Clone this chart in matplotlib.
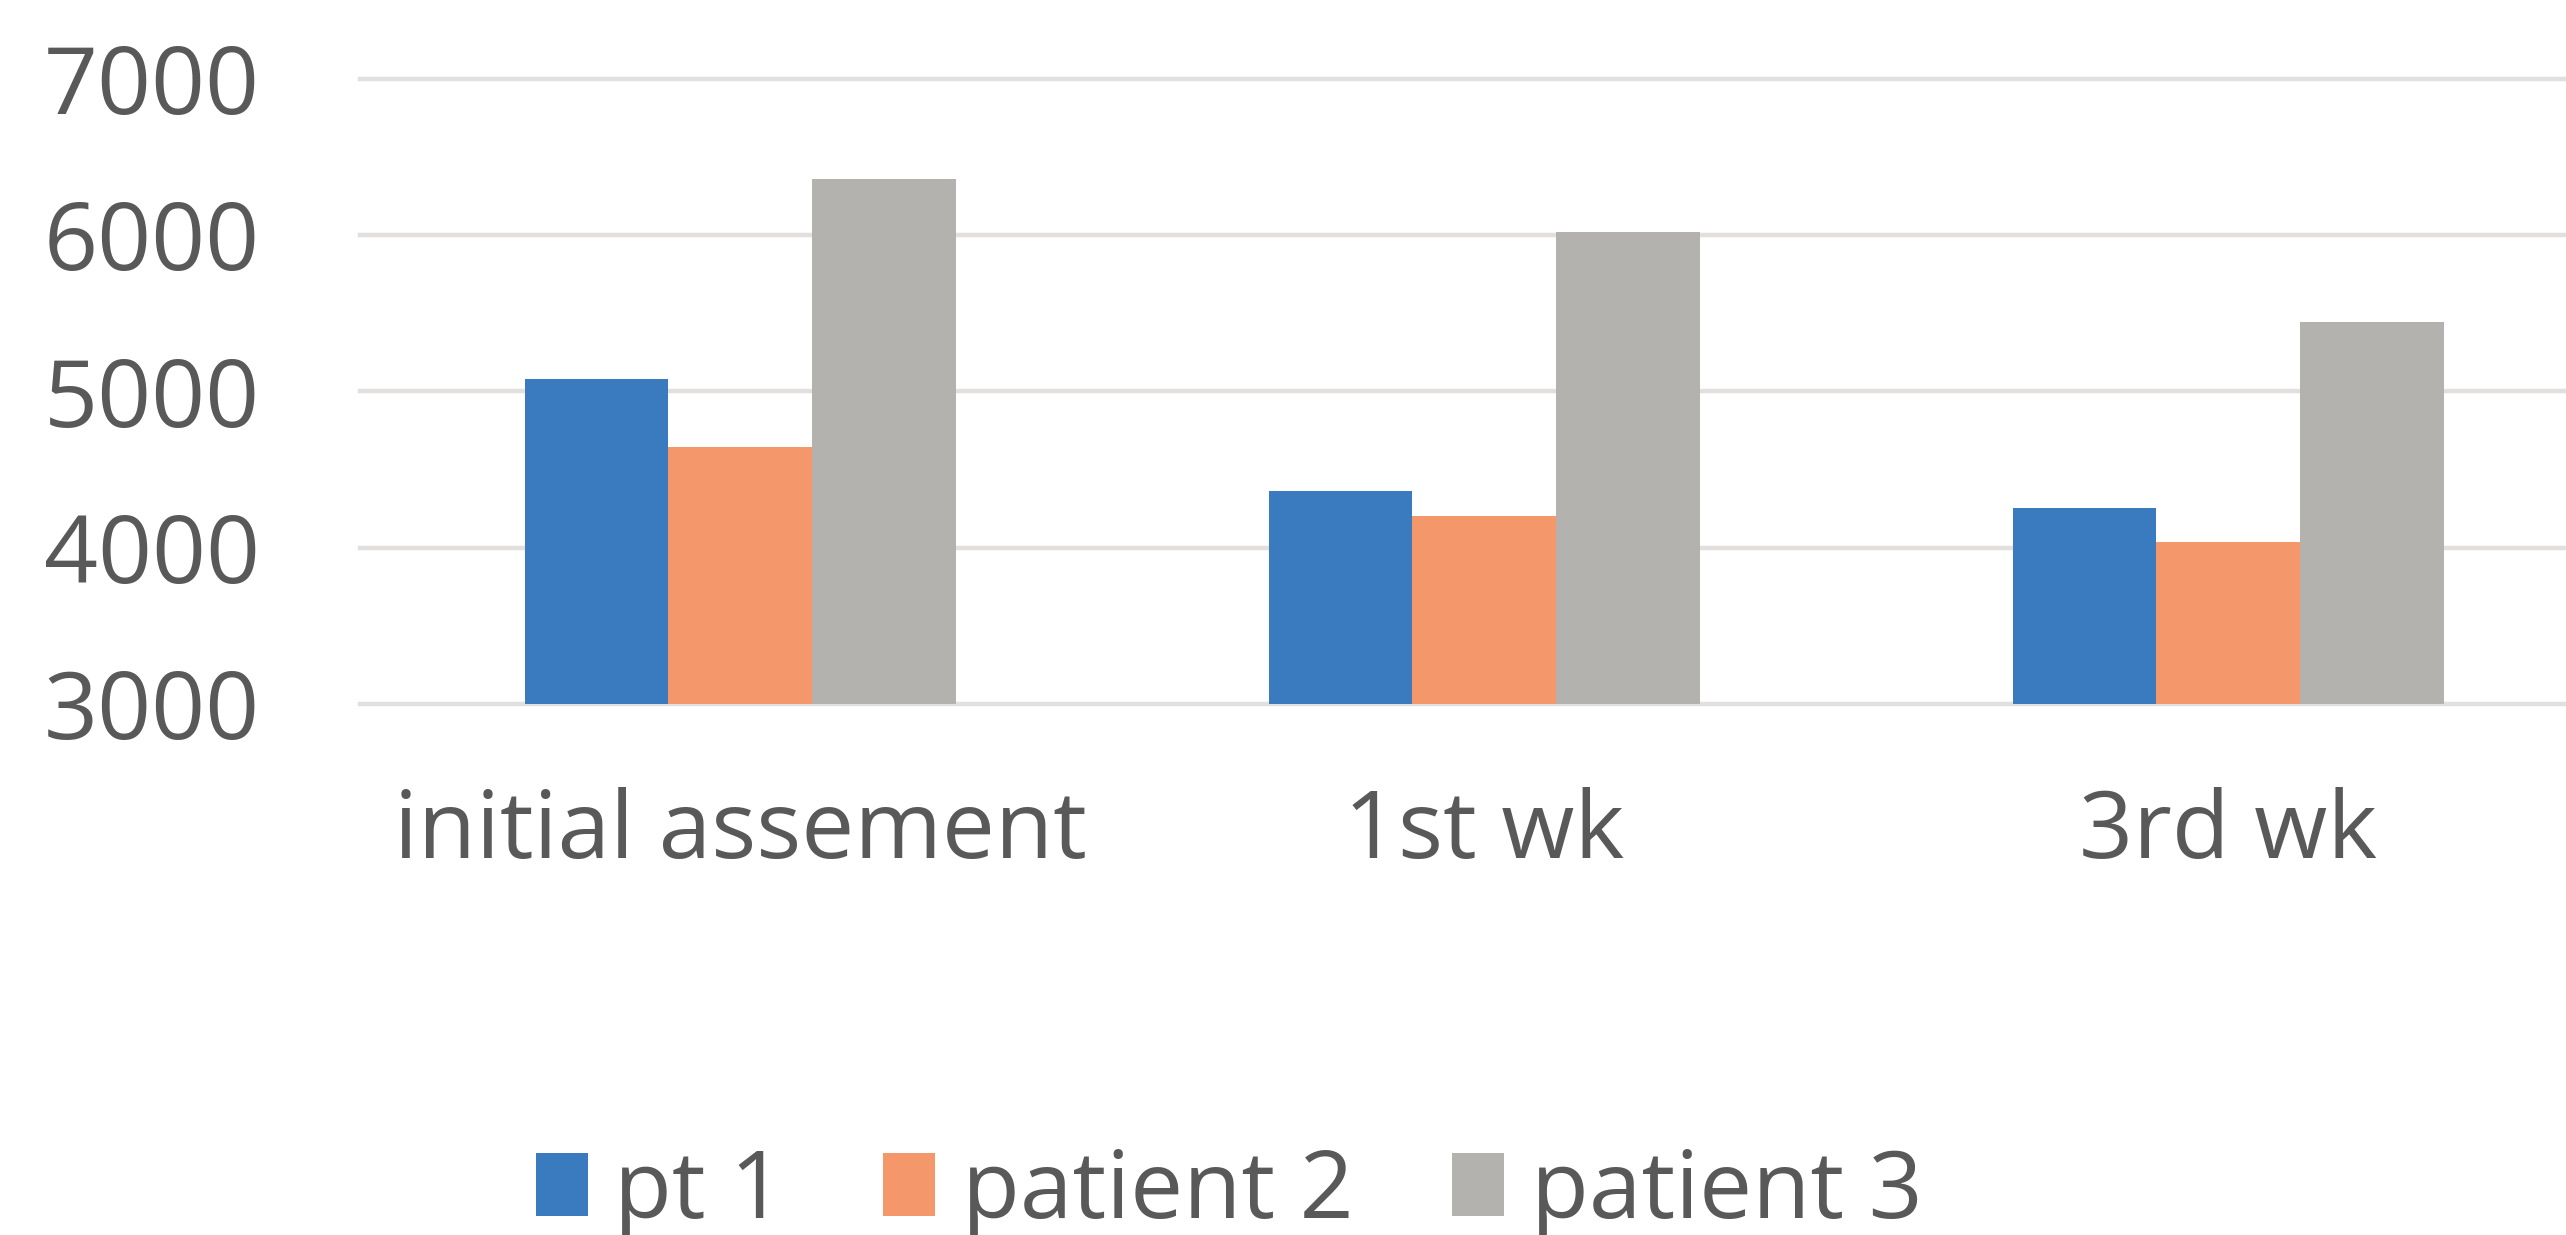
import matplotlib
matplotlib.use("Agg")
import matplotlib.pyplot as plt
import numpy as np

# data
categories = ["initial assement", "1st wk", "3rd wk"]
series_names = ["pt 1", "patient 2", "patient 3"]
pt1 = [5080, 4365, 4255]
patient2 = [4645, 4200, 4035]
patient3 = [6360, 6020, 5440]
yticks = [3000, 4000, 5000, 6000, 7000]

colors = ["#3A7ABF", "#F4976A", "#B3B2AF"]
text_color = "#595959"
fs = 68

plt.rcParams['font.family'] = ['Open Sans', 'DejaVu Sans']

fig = plt.figure(figsize=(25.66, 12.35), dpi=100)
ax = fig.add_axes([0.1403, 0.4300, 1 - 0.1403, 0.5064])

x = np.arange(len(categories))
w = 0.193
for i, (vals, name) in enumerate(zip([pt1, patient2, patient3], series_names)):
    ax.bar(x + (i - 1) * w, vals, width=w, color=colors[i], label=name, zorder=3)

ax.set_ylim(3000, 7000)
ax.set_xlim(-0.511, 2.454)
ax.set_yticks(yticks)
ax.set_yticklabels([str(t) for t in yticks])
ax.set_xticks(x)
ax.set_xticklabels(categories)
ax.tick_params(axis='y', length=0, pad=72, labelsize=fs, labelcolor=text_color)
ax.tick_params(axis='x', length=0, pad=60, labelsize=fs, labelcolor=text_color)

# light horizontal gridlines
for t in yticks:
    ax.axhline(t, color="#E3DFDD", lw=3.2, zorder=1, clip_on=False)

for s in ax.spines.values():
    s.set_visible(False)

fig.legend(loc='center', bbox_to_anchor=(0.479, 0.034), ncol=3, frameon=False,
           fontsize=fs, labelcolor=text_color, handlelength=0.55, handleheight=0.66,
           handletextpad=0.28, columnspacing=1.05, borderpad=0)

fig.savefig("out.png", dpi=100)
